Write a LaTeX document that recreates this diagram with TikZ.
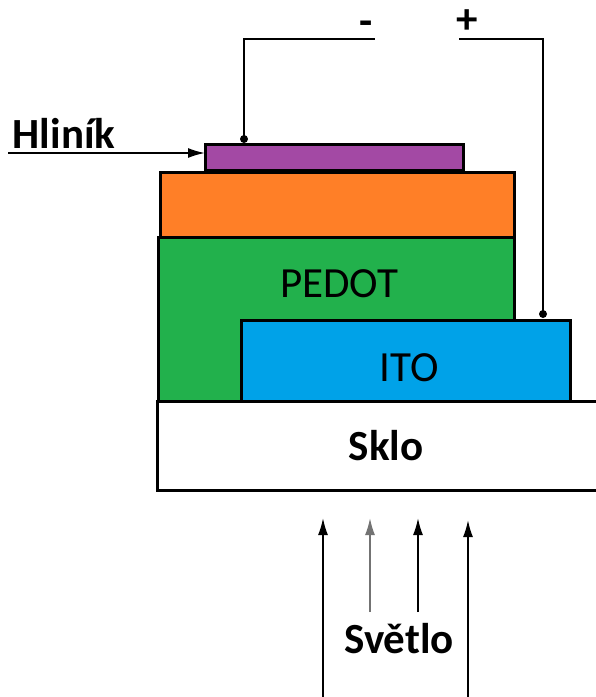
\documentclass[tikz,border=0pt]{standalone}
\usepackage{fontspec}
\setmainfont{Carlito}
\usetikzlibrary{arrows.meta}
\definecolor{alu}{HTML}{A349A4}
\definecolor{orng}{HTML}{FF7F27}
\definecolor{pedot}{HTML}{22B14C}
\definecolor{ito}{HTML}{00A2E8}
\begin{document}
\begin{tikzpicture}[x=1pt,y=-1pt,
  layer/.style={draw=black,line width=3pt,inner sep=0pt,outer sep=0pt,anchor=north west},
  lbl/.style={font=\fontsize{43}{46}\selectfont},
  blbl/.style={font=\fontsize{43}{46}\selectfont\bfseries},
  wire/.style={line width=1.4pt},
  dotc/.style={circle,fill=black,inner sep=0pt,minimum size=8pt},
  ray/.style={line width=1.8pt,-{Latex[length=17pt,width=10pt]}}]
\useasboundingbox (0,0) rectangle (596,697);
\clip (0,0) rectangle (596,697);
% layers
\node[layer,fill=pedot,minimum width=356pt,minimum height=164pt] (pd) at (158,237) {};
\node[layer,fill=ito,minimum width=329pt,minimum height=81pt] (it) at (241,320) {};
\node[layer,fill=orng,minimum width=354pt,minimum height=65pt] (or) at (160,172) {};
\node[layer,fill=alu,minimum width=258pt,minimum height=26pt] (al) at (205,144) {};
\node[layer,fill=white,minimum width=460pt,minimum height=89pt] (sk) at (157,401) {};
% texts
\node[lbl] (tpedot) at (339,284) {PEDOT};
\node[lbl] (tito) at (409,368) {ITO};
\node[blbl] (tsklo) at (386,446) {Sklo};
\node[blbl] (tsvetlo) at (399,639) {Světlo};
\node[blbl] (thlinik) at (64,133) {Hliník};
\node[blbl] (tminus) at (366,28) {-};
\node[blbl] (tplus) at (467,22) {+};
% wires
\node[dotc] (mdot) at (244,139) {};
\node[dotc] (pdot) at (543,314) {};
\coordinate (mend) at (375,39);
\coordinate (pend) at (459,39);
\draw[wire] (mdot.center) |- (mend);
\draw[wire] (pend) -| (pdot.center);
% Hlinik arrow
\coordinate (hstart) at (8,153);
\draw[line width=1.8pt,-{Latex[length=17pt,width=10pt]}] (hstart) -- (al.west |- hstart);
% light rays
\coordinate (r1s) at (323,700); \coordinate (r1e) at (323,518);
\coordinate (r2s) at (370,612); \coordinate (r2e) at (370,518);
\coordinate (r3s) at (418,612); \coordinate (r3e) at (418,518);
\coordinate (r4s) at (468,700); \coordinate (r4e) at (468,520);
\draw[ray] (r1s) -- (r1e);
\draw[ray,draw=black!55] (r2s) -- (r2e);
\draw[ray] (r3s) -- (r3e);
\draw[ray] (r4s) -- (r4e);
\end{tikzpicture}
\end{document}
